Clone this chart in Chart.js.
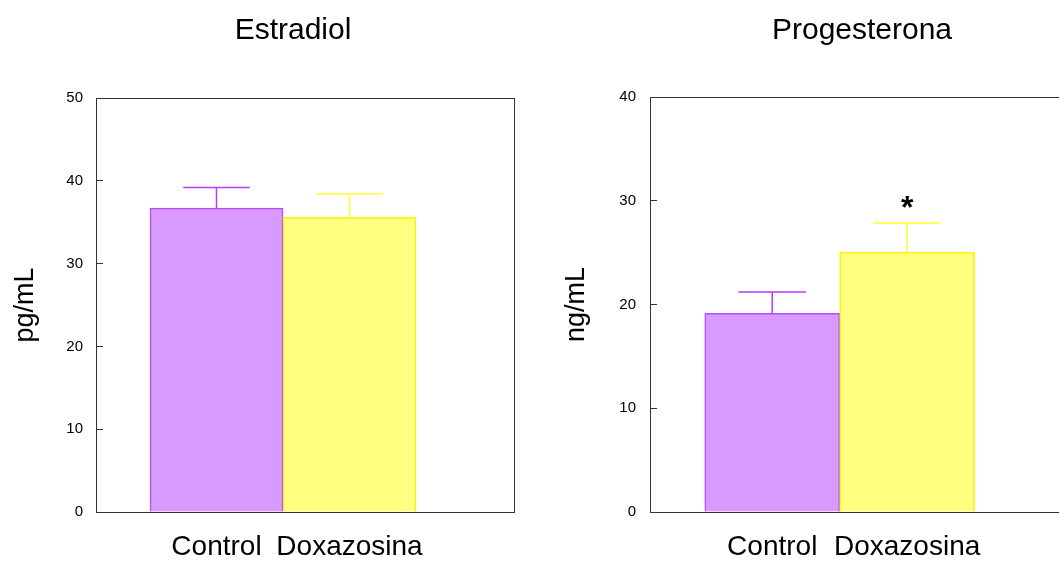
<!DOCTYPE html>
<html>
<head>
<meta charset="utf-8">
<script src="https://cdn.jsdelivr.net/npm/chart.js@4.4.1/dist/chart.umd.min.js"></script>
<style>
  html, body { margin: 0; padding: 0; background: #fff; }
  body { width: 1059px; height: 561px; overflow: hidden; position: relative; }
  canvas { position: absolute; top: 0; }
  #c1 { left: 0; }
  #c2 { left: 560px; }
</style>
</head>
<body>
<canvas id="c2" width="560" height="561"></canvas>
<canvas id="c1" width="586" height="561"></canvas>
<script>
// ---- data ----
const categories = ['Control', 'Doxazosina'];

const estradiolMeans = [36.7, 35.6];
const estradiolErrors = [2.5, 2.8];
const estradiolSignificance = ['', ''];
const estradiolTicks = [0, 10, 20, 30, 40, 50];

const progesteronaMeans = [19.15, 25.05];
const progesteronaErrors = [2.05, 2.8];
const progesteronaSignificance = ['', '*'];
const progesteronaTicks = [0, 10, 20, 30, 40];

const fillColors = ['#d89aff', '#ffff80'];
const borderColors = ['#b44cff', '#f5f500'];
const errorColors = ['#b43cff', '#ffff33'];

const sansFont = '"Liberation Sans", Arial, sans-serif';

// ---- plugins ----
const framePlugin = {
  id: 'frame',
  afterDatasetsDraw(chart) {
    const a = chart.chartArea, ctx = chart.ctx;
    ctx.save();
    ctx.strokeStyle = '#333';
    ctx.lineWidth = 1;
    ctx.strokeRect(Math.round(a.left) + 0.5, Math.round(a.top) + 0.5,
                   Math.round(a.right - a.left), Math.round(a.bottom - a.top));
    ctx.restore();
  }
};

const errorBarPlugin = {
  id: 'errorBars',
  afterDatasetsDraw(chart, args, opts) {
    const ctx = chart.ctx;
    const yScale = chart.scales.y;
    const meta = chart.getDatasetMeta(0);
    const ds = chart.data.datasets[0];
    meta.data.forEach((bar, i) => {
      const mean = ds.data[i].y;
      const top = yScale.getPixelForValue(mean + opts.errors[i]);
      const half = bar.width / 4;
      ctx.save();
      ctx.strokeStyle = errorColors[i];
      ctx.lineWidth = 1.5;
      ctx.beginPath();
      ctx.moveTo(bar.x, bar.y);
      ctx.lineTo(bar.x, top);
      ctx.moveTo(bar.x - half, top);
      ctx.lineTo(bar.x + half, top);
      ctx.stroke();
      const mark = opts.significance[i];
      if (mark) {
        ctx.fillStyle = '#000';
        ctx.font = 'bold 32px ' + sansFont;
        ctx.textAlign = 'center';
        ctx.textBaseline = 'alphabetic';
        ctx.fillText(mark, bar.x, top - 5);
      }
      ctx.restore();
    });
  }
};

function makeChart(canvasId, cfg) {
  const scales = {
    x: {
      type: 'linear',
      offset: false,
      min: -0.906,
      max: 2.237,
      afterBuildTicks: s => { s.ticks = categories.map((_, i) => ({ value: i })); },
      ticks: {
        callback: v => categories[v],
        color: '#000',
        padding: 18,
        font: { family: sansFont, size: 28 }
      },
      grid: { display: false, drawTicks: false },
      border: { display: false },
      afterFit: s => { s.height = 49; }
    },
    y: {
      min: 0,
      max: cfg.ticks[cfg.ticks.length - 1],
      afterBuildTicks: s => { s.ticks = cfg.ticks.map(v => ({ value: v })); },
      ticks: {
        color: '#000',
        padding: cfg.tickPadding,
        font: { family: sansFont, size: 15 }
      },
      grid: { drawOnChartArea: false, drawTicks: true, tickLength: -7, color: '#333' },
      border: { display: false },
      title: {
        display: true,
        text: cfg.yTitle,
        color: '#000',
        font: { family: sansFont, size: 27 },
        padding: { top: cfg.yTitlePad, bottom: 0 }
      },
      afterFit: s => { s.width = cfg.yWidth; }
    }
  };
  if (cfg.rightSpace) {
    scales.spacer = {
      type: 'linear',
      position: 'right',
      display: true,
      ticks: { display: false },
      grid: { display: false, drawTicks: false },
      border: { display: false },
      afterFit: s => { s.width = cfg.rightSpace; }
    };
  }
  return new Chart(document.getElementById(canvasId), {
    type: 'bar',
    data: {
      datasets: [{
        data: cfg.means.map((v, i) => ({ x: i, y: v })),
        backgroundColor: fillColors,
        borderColor: borderColors,
        borderWidth: 1.5,
        borderSkipped: 'bottom',
        barPercentage: 1,
        categoryPercentage: 1
      }]
    },
    options: {
      responsive: false,
      animation: false,
      layout: { padding: { left: 0, right: cfg.padRight, top: 0, bottom: 0 } },
      plugins: {
        legend: { display: false },
        tooltip: { enabled: false },
        title: {
          display: true,
          text: cfg.title,
          fullSize: cfg.titleFull,
          color: '#000',
          font: { family: sansFont, size: 30, weight: 'normal', lineHeight: 1.4 },
          padding: { top: 10, bottom: cfg.titleBottom }
        },
        errorBars: { errors: cfg.errors, significance: cfg.significance }
      },
      scales
    },
    plugins: [errorBarPlugin, framePlugin]
  });
}

makeChart('c1', {
  title: 'Estradiol', titleFull: true, titleBottom: 46,
  yTitle: 'pg/mL', yTitlePad: 9, yWidth: 96, tickPadding: 20,
  means: estradiolMeans, errors: estradiolErrors, significance: estradiolSignificance,
  ticks: estradiolTicks, padRight: 0, rightSpace: 72
});

makeChart('c2', {
  title: 'Progesterona', titleFull: false, titleBottom: 45,
  yTitle: 'ng/mL', yTitlePad: 0, yWidth: 90, tickPadding: 21,
  means: progesteronaMeans, errors: progesteronaErrors, significance: progesteronaSignificance,
  ticks: progesteronaTicks, padRight: 46, rightSpace: 0
});
</script>
</body>
</html>
